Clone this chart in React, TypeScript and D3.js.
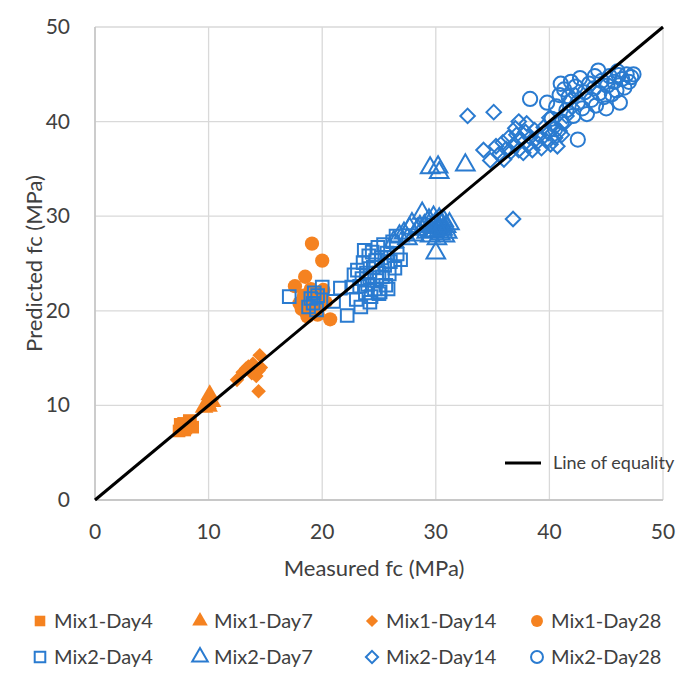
import React from 'react';
import * as d3 from 'd3';

type Pt = [number, number];

const mix1Day4: Pt[] = [[7.4,7.3],[7.6,7.8],[7.8,8.1],[8.0,7.6],[8.2,7.9],[8.4,8.2],[8.6,7.7],[7.5,8.0],[8.3,8.4],[7.9,7.4]];
const mix1Day7: Pt[] = [[9.6,9.8],[9.9,10.2],[10.1,11.1],[10.3,10.4],[10.0,9.9]];
const mix1Day14: Pt[] = [[12.5,12.7],[13.0,13.5],[13.3,13.9],[13.5,14.1],[13.8,13.4],[14.0,13.9],[14.2,13.1],[14.4,13.7],[14.5,15.3],[14.4,11.5],[14.6,14.0],[13.9,14.4]];
const mix1Day28: Pt[] = [[19.1,27.1],[20.0,25.3],[18.5,23.6],[17.6,22.6],[20.7,19.1],[18.0,20.8],[18.2,20.2],[18.4,21.6],[18.6,19.8],[18.9,20.4],[19.2,21.9],[19.4,20.0],[19.7,21.2],[19.9,20.6],[20.1,22.2],[18.7,19.4],[19.6,19.6],[20.3,20.9],[19.0,22.3],[18.3,21.1]];

const mix2Day4: Pt[] = [[17.1,21.5],[18.8,20.4],[19.0,21.3],[19.2,20.8],[19.3,21.9],[19.5,20.1],[19.6,21.6],[20.0,22.5],[21.0,21.0],[21.6,22.4],[22.2,19.5],[22.6,22.5],[22.8,23.8],[23.0,21.2],[23.1,24.3],[23.3,22.6],[23.4,20.4],[23.5,23.4],[23.6,25.1],[23.8,21.9],[23.9,24.0],[24.0,22.8],[24.1,25.8],[24.2,23.5],[24.3,21.5],[24.4,26.2],[24.5,24.6],[24.6,22.3],[24.7,25.3],[24.8,23.2],[24.9,26.7],[25.0,24.0],[25.1,22.0],[25.2,25.6],[25.3,23.6],[25.4,27.0],[25.5,24.8],[25.6,22.7],[25.7,26.1],[25.9,23.9],[26.0,25.2],[26.2,27.3],[26.4,24.5],[26.6,26.0],[26.9,25.4],[25.0,21.8],[24.2,20.9],[25.8,22.3],[23.7,26.4],[26.5,27.9]];
const mix2Day7: Pt[] = [[26.3,27.3],[26.8,27.9],[27.2,28.2],[27.5,27.6],[27.9,29.2],[28.1,28.0],[28.4,28.6],[28.8,30.3],[29.0,29.0],[29.2,28.3],[29.4,29.6],[29.5,27.9],[29.7,28.9],[29.8,29.9],[29.9,28.4],[30.0,29.3],[30.1,27.6],[30.2,28.8],[30.3,29.7],[30.4,28.1],[30.5,29.1],[30.6,28.6],[30.7,29.5],[30.8,27.9],[30.9,28.9],[31.0,28.3],[31.2,29.2],[30.0,26.1],[29.6,28.4],[30.3,28.5],[29.5,35.1],[30.2,35.2],[30.3,34.6],[32.6,35.4],[28.6,28.9],[27.7,28.7]];
const mix2Day14: Pt[] = [[32.8,40.6],[35.1,41.0],[36.8,29.7],[34.2,37.0],[34.8,35.9],[37.3,40.0],[35.3,37.4],[35.6,36.6],[35.9,37.8],[36.2,37.1],[36.4,38.3],[36.6,36.8],[36.9,37.6],[37.1,38.6],[37.3,37.0],[37.5,38.1],[37.7,36.7],[37.9,38.9],[38.1,37.5],[38.3,38.3],[38.5,37.0],[38.7,39.1],[38.9,37.8],[39.1,38.5],[39.3,37.2],[39.5,39.4],[39.7,38.0],[39.9,38.8],[40.1,37.6],[40.3,39.6],[40.5,38.3],[40.7,37.4],[40.9,39.0],[41.1,38.6],[41.3,39.8],[37.0,39.3],[36.0,36.0],[38.0,39.8],[40.0,40.4],[41.5,40.6],[42.0,41.5],[41.8,42.3],[42.3,42.8]];
const mix2Day28: Pt[] = [[38.3,42.4],[39.8,42.0],[40.2,40.3],[40.6,41.6],[40.9,42.8],[41.1,40.0],[41.3,43.4],[41.5,41.2],[41.7,42.6],[41.9,44.2],[42.1,40.6],[42.3,43.7],[42.5,38.1],[42.5,42.0],[42.7,44.6],[42.9,41.4],[43.1,43.1],[43.3,40.8],[43.5,44.0],[43.7,42.3],[43.9,43.5],[44.1,41.7],[44.3,45.4],[44.4,43.0],[44.6,44.3],[44.8,42.6],[45.0,41.4],[45.1,43.8],[45.3,44.8],[45.5,42.9],[45.7,44.2],[45.9,43.3],[46.1,44.9],[46.2,42.0],[46.4,44.5],[46.6,43.6],[46.8,45.0],[47.0,44.2],[47.2,44.7],[47.4,45.0],[41.0,44.0],[40.5,39.2],[44.0,44.8],[46.0,45.3]];

const ticks = [0, 10, 20, 30, 40, 50];
const equality: Pt[] = [[0, 0], [50, 50]];

const ORANGE = '#F58220';
const BLUE = '#2A7BD0';

type Shape = 'square' | 'triangle' | 'diamond' | 'circle';

const series: { name: string; data: Pt[]; shape: Shape; color: string; filled: boolean }[] = [
  { name: 'Mix1-Day4', data: mix1Day4, shape: 'square', color: ORANGE, filled: true },
  { name: 'Mix1-Day7', data: mix1Day7, shape: 'triangle', color: ORANGE, filled: true },
  { name: 'Mix1-Day14', data: mix1Day14, shape: 'diamond', color: ORANGE, filled: true },
  { name: 'Mix1-Day28', data: mix1Day28, shape: 'circle', color: ORANGE, filled: true },
  { name: 'Mix2-Day4', data: mix2Day4, shape: 'square', color: BLUE, filled: false },
  { name: 'Mix2-Day7', data: mix2Day7, shape: 'triangle', color: BLUE, filled: false },
  { name: 'Mix2-Day14', data: mix2Day14, shape: 'diamond', color: BLUE, filled: false },
  { name: 'Mix2-Day28', data: mix2Day28, shape: 'circle', color: BLUE, filled: false },
];

const symbolType = {
  square: d3.symbolSquare,
  triangle: d3.symbolTriangle,
  diamond: d3.symbolDiamond2,
  circle: d3.symbolCircle,
};
const symbolSize = { square: 160, triangle: 150, diamond: 135, circle: 160 };

const FONT = 'Lato, sans-serif';
const TXT = '#404040';

export default function App() {
  const width = 690;
  const height = 675;
  const m = { left: 87, right: 655, top: 19, bottom: 492 };

  const x = d3.scaleLinear().domain([0, 50]).range([m.left, m.right]);
  const y = d3.scaleLinear().domain([0, 50]).range([m.bottom, m.top]);
  const line = d3.line<Pt>().x(d => x(d[0])).y(d => y(d[1]));

  const sym = (shape: Shape, k = 1) => d3.symbol().type(symbolType[shape]).size(symbolSize[shape] * k)() as string;

  const legendX = [32, 192, 364, 529];
  const legendY = [613, 649];

  return (
    <svg width={width} height={height} style={{ display: 'block' }} fontFamily={FONT}>
      {ticks.map(t => (
        <g key={'g' + t}>
          <line x1={x(t)} x2={x(t)} y1={m.top} y2={m.bottom} stroke="#d9d9d9" strokeWidth={1.3} />
          <line x1={m.left} x2={m.right} y1={y(t)} y2={y(t)} stroke="#d9d9d9" strokeWidth={1.3} />
          <text x={x(t)} y={m.bottom + 39} textAnchor="middle" fontSize={21} fill={TXT}>{t}</text>
          <text x={m.left - 25} y={y(t) + 7} textAnchor="end" fontSize={21} fill={TXT}>{t}</text>
        </g>
      ))}
      <line x1={m.left} x2={m.left} y1={m.top} y2={m.bottom} stroke="#bfbfbf" strokeWidth={1.3} />
      <line x1={m.left} x2={m.right} y1={m.bottom} y2={m.bottom} stroke="#bfbfbf" strokeWidth={1.3} />

      {series.map(s => (
        <g key={s.name}>
          {s.data.map((d, i) => (
            <path
              key={i}
              d={sym(s.shape)}
              transform={`translate(${x(d[0])},${y(d[1])})`}
              fill={s.filled ? s.color : 'none'}
              stroke={s.color}
              strokeWidth={s.filled ? 0 : 2}
            />
          ))}
        </g>
      ))}

      <path d={line(equality) as string} stroke="#000" strokeWidth={3} fill="none" />

      <line x1={497} x2={533} y1={455} y2={455} stroke="#000" strokeWidth={3} />
      <text x={545} y={461} fontSize={18} fill={TXT}>Line of equality</text>

      <text x={(m.left + m.right) / 2 - 5} y={568} textAnchor="middle" fontSize={22} fill={TXT}>Measured fc (MPa)</text>
      <text transform={`translate(34,${(m.top + m.bottom) / 2}) rotate(-90)`} textAnchor="middle" fontSize={22} fill={TXT}>Predicted fc (MPa)</text>

      {series.map((s, i) => {
        const lx = legendX[i % 4];
        const ly = legendY[Math.floor(i / 4)];
        return (
          <g key={'l' + s.name} transform={`translate(${lx},${ly})`}>
            <path d={sym(s.shape, 0.7)} fill={s.filled ? s.color : 'none'} stroke={s.color} strokeWidth={s.filled ? 0 : 2} />
            <text x={14} y={7} fontSize={20} fill={TXT}>{s.name}</text>
          </g>
        );
      })}
    </svg>
  );
}
